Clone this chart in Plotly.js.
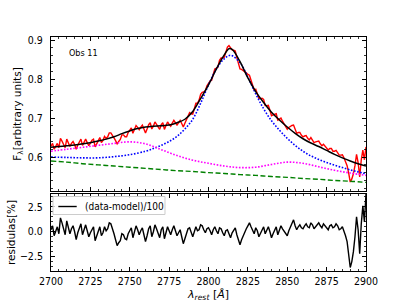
<!DOCTYPE html>
<html>
<head>
<meta charset="utf-8">
<script src="https://cdn.plot.ly/plotly-3.0.1.min.js"></script>
<style>html,body{margin:0;padding:0;background:#fff;}#chart{width:407px;height:305px;}</style>
</head>
<body>
<div id="chart"></div>
<script>
// Observed spectrum and residuals (1 Å sampling)
const waveData = [2700,2701,2702,2703,2704,2705,2706,2707,2708,2709,2710,2711,2712,2713,2714,2715,2716,2717,2718,2719,
2720,2721,2722,2723,2724,2725,2726,2727,2728,2729,2730,2731,2732,2733,2734,2735,2736,2737,2738,2739,
2740,2741,2742,2743,2744,2745,2746,2747,2748,2749,2750,2751,2752,2753,2754,2755,2756,2757,2758,2759,
2760,2761,2762,2763,2764,2765,2766,2767,2768,2769,2770,2771,2772,2773,2774,2775,2776,2777,2778,2779,
2780,2781,2782,2783,2784,2785,2786,2787,2788,2789,2790,2791,2792,2793,2794,2795,2796,2797,2798,2799,
2800,2801,2802,2803,2804,2805,2806,2807,2808,2809,2810,2811,2812,2813,2814,2815,2816,2817,2818,2819,
2820,2821,2822,2823,2824,2825,2826,2827,2828,2829,2830,2831,2832,2833,2834,2835,2836,2837,2838,2839,
2840,2841,2842,2843,2844,2845,2846,2847,2848,2849,2850,2851,2852,2853,2854,2855,2856,2857,2858,2859,
2860,2861,2862,2863,2864,2865,2866,2867,2868,2869,2870,2871,2872,2873,2874,2875,2876,2877,2878,2879,
2880,2881,2882,2883,2884,2885,2886,2887,2888,2889,2890,2891,2892,2893,2894,2895,2896,2897,2898,2899,2900];
const fluxData = [0.628,0.635,0.620,0.628,0.635,0.624,0.648,0.641,0.633,0.624,0.646,0.636,0.627,0.635,0.640,0.632,0.620,0.631,0.639,0.646,
0.630,0.638,0.646,0.637,0.629,0.636,0.643,0.646,0.626,0.634,0.644,0.650,0.637,0.643,0.653,0.648,0.652,0.662,0.662,0.657,
0.649,0.642,0.634,0.640,0.645,0.657,0.657,0.652,0.652,0.663,0.669,0.675,0.661,0.670,0.681,0.676,0.670,0.677,0.682,0.672,
0.662,0.672,0.683,0.688,0.672,0.679,0.690,0.684,0.677,0.671,0.683,0.688,0.671,0.679,0.690,0.684,0.679,0.687,0.694,0.688,
0.682,0.688,0.694,0.686,0.677,0.687,0.697,0.709,0.714,0.711,0.710,0.724,0.738,0.738,0.746,0.761,0.766,0.767,0.770,0.783,
0.791,0.795,0.797,0.813,0.826,0.828,0.831,0.848,0.854,0.854,0.856,0.869,0.882,0.886,0.879,0.875,0.874,0.872,0.855,0.842,
0.826,0.825,0.822,0.821,0.816,0.812,0.810,0.797,0.784,0.772,0.774,0.764,0.750,0.750,0.751,0.748,0.732,0.732,0.733,0.720,
0.706,0.708,0.710,0.711,0.695,0.697,0.700,0.692,0.686,0.678,0.671,0.676,0.679,0.681,0.682,0.670,0.661,0.663,0.663,0.656,
0.652,0.654,0.655,0.648,0.644,0.650,0.645,0.637,0.639,0.640,0.641,0.634,0.629,0.633,0.628,0.622,0.618,0.622,0.622,0.615,
0.615,0.617,0.612,0.605,0.605,0.606,0.598,0.589,0.578,0.559,0.536,0.544,0.557,0.578,0.607,0.586,0.549,0.593,0.618,0.593,0.626];
const residData = [0.2,0.6,-0.4,0.1,0.5,-0.2,1.4,0.9,0.3,-0.3,1.1,0.4,-0.2,0.3,0.6,0.0,-0.8,-0.1,0.4,0.8,
-0.3,0.2,0.7,0.1,-0.5,-0.1,0.3,0.5,-0.9,-0.4,0.2,0.5,-0.4,-0.1,0.5,0.1,0.3,0.9,0.8,0.4,
-0.2,-0.8,-1.4,-1.1,-0.9,-0.2,-0.3,-0.7,-0.8,-0.2,0.1,0.4,-0.6,-0.1,0.6,0.2,-0.3,0.1,0.4,-0.3,
-1.0,-0.4,0.3,0.6,-0.5,0.0,0.7,0.3,-0.2,-0.6,0.2,0.5,-0.7,-0.2,0.5,0.1,-0.3,0.2,0.6,0.1,
-0.4,-0.1,0.2,-0.5,-1.2,-0.7,-0.2,0.3,0.4,-0.1,-0.5,0.0,0.5,0.1,0.2,0.7,0.6,0.2,-0.1,0.3,
0.4,0.1,-0.3,0.2,0.5,0.1,-0.2,0.4,0.3,-0.1,-0.4,0.1,0.2,-0.2,-0.6,-0.1,0.1,0.4,-0.3,-0.7,
-1.3,-0.8,-0.4,0.1,0.3,0.6,0.9,0.5,0.1,-0.2,0.4,0.1,-0.5,-0.1,0.3,0.5,-0.2,0.1,0.5,0.0,
-0.6,-0.2,0.2,0.5,-0.3,0.1,0.6,0.3,0.1,-0.2,-0.4,0.1,0.5,0.9,1.2,0.6,0.2,0.5,0.7,0.4,
0.3,0.6,0.8,0.5,0.4,0.9,0.7,0.3,0.5,0.7,0.9,0.6,0.4,0.8,0.6,0.3,0.2,0.6,0.7,0.4,
0.5,0.8,0.6,0.2,0.3,0.5,0.1,-0.4,-1.0,-2.2,-3.6,-3.0,-2.0,-0.5,1.5,0.2,-2.2,0.8,2.6,1.0,3.8];

// Total model (black)
const waveModel = [2700,2705,2710,2715,2720,2725,2730,2735,2740,2745,2750,2755,2760,2765,2770,2775,2780,2785,2790,2795,2800,2805,2810,2813,2815,2820,2825,2830,2835,2840,2845,2850,2855,2860,2865,2870,2875,2880,2885,2890,2895,2900];
const fluxModel = [0.625,0.627,0.629,0.631,0.634,0.637,0.641,0.646,0.652,0.660,0.667,0.673,0.677,0.679,0.680,0.682,0.688,0.697,0.717,0.750,0.785,0.826,0.862,0.878,0.876,0.845,0.803,0.768,0.740,0.715,0.695,0.677,0.661,0.647,0.636,0.627,0.617,0.607,0.598,0.590,0.583,0.577];

// Broad line component + continuum (blue dotted)
const waveLine = [2700,2710,2720,2730,2740,2750,2760,2765,2770,2775,2780,2785,2790,2795,2800,2805,2810,2814,2820,2825,2830,2835,2840,2845,2850,2855,2860,2865,2870,2875,2880,2885,2890,2895,2900];
const fluxLine = [0.600,0.599,0.598,0.598,0.601,0.606,0.615,0.622,0.630,0.640,0.653,0.672,0.697,0.738,0.785,0.826,0.852,0.861,0.842,0.805,0.762,0.724,0.693,0.669,0.648,0.630,0.615,0.603,0.594,0.586,0.579,0.573,0.567,0.562,0.557];

// Fe II template + continuum (magenta dotted)
const waveFe = [2700,2710,2720,2730,2740,2750,2760,2770,2780,2790,2800,2810,2820,2830,2840,2850,2860,2870,2880,2890,2900];
const fluxFe = [0.615,0.620,0.625,0.630,0.635,0.639,0.634,0.619,0.604,0.592,0.584,0.577,0.573,0.574,0.581,0.587,0.584,0.575,0.566,0.559,0.553];

// Power-law continuum (green dashed)
const waveCont = [2700,2710,2720,2730,2740,2750,2760,2770,2780,2790,2800,2810,2820,2830,2840,2850,2860,2870,2880,2890,2900];
const fluxCont = [0.590,0.587,0.583,0.580,0.577,0.574,0.571,0.568,0.565,0.563,0.560,0.558,0.555,0.553,0.550,0.548,0.545,0.543,0.540,0.538,0.535];

const xTickVals = [2700,2725,2750,2775,2800,2825,2850,2875,2900];
const residTickVals = [-2.5,0.0,2.5];
const residTickText = ['\u22122.5','0.0','2.5'];

const condensed = 'DejaVu Sans Condensed, DejaVu Sans, sans-serif';
const regular = 'DejaVu Sans, sans-serif';

const traces = [
  {x: waveData, y: fluxData, xaxis:'x2', yaxis:'y', mode:'lines', line:{color:'#ff0000', width:1.4}, showlegend:false},
  {x: waveLine, y: fluxLine, xaxis:'x2', yaxis:'y', mode:'lines', line:{color:'#0000ff', width:1.6, dash:'1.6px,1.6px', shape:'spline'}, showlegend:false},
  {x: waveFe, y: fluxFe, xaxis:'x2', yaxis:'y', mode:'lines', line:{color:'#ff00ff', width:1.6, dash:'1.6px,1.6px', shape:'spline'}, showlegend:false},
  {x: waveCont, y: fluxCont, xaxis:'x2', yaxis:'y', mode:'lines', line:{color:'#008000', width:1.4, dash:'5px,2.5px', shape:'spline'}, showlegend:false},
  {x: waveModel, y: fluxModel, xaxis:'x2', yaxis:'y', mode:'lines', line:{color:'#000000', width:1.5, shape:'spline'}, showlegend:false},
  {x: waveData, y: residData, xaxis:'x', yaxis:'y2', mode:'lines', name:'(data-model)/100', line:{color:'#000000', width:1.4}, showlegend:false}
];

function axisBase(){
  return {showline:true, linecolor:'#000', linewidth:1, mirror:'allticks', ticks:'inside', ticklen:4, tickwidth:1, tickcolor:'#000', showgrid:false, zeroline:false, tickfont:{family:condensed, size:10.5, color:'#000'}};
}

const xaxis = Object.assign(axisBase(), {domain:[0,1], anchor:'y2', range:[2700,2900], tickvals:xTickVals, ticktext:xTickVals.map(String),
  minor:{ticks:'inside', ticklen:2, tickwidth:0.8, tickcolor:'#000', dtick:5, tick0:2700},
  title:{text:'<i>λ</i><sub><i>rest</i></sub> [<i>Å</i>]', font:{family:regular, size:11, color:'#000'}, standoff:4}});
const xaxis2 = Object.assign(axisBase(), {domain:[0,1], anchor:'y', matches:'x', range:[2700,2900], tickvals:xTickVals, showticklabels:false,
  minor:{ticks:'inside', ticklen:2, tickwidth:0.8, tickcolor:'#000', dtick:5, tick0:2700}});
const yaxis = Object.assign(axisBase(), {domain:[0.342,1], anchor:'x2', range:[0.513,0.908], dtick:0.1, tick0:0, tickformat:'.1f', ticklabelstandoff:5,
  minor:{ticks:'inside', ticklen:2, tickwidth:0.8, tickcolor:'#000', dtick:0.02, tick0:0},
  title:{text:'F<sub>λ</sub>[arbitrary units]', font:{family:regular, size:10.5, color:'#000'}, standoff:4}});
const yaxis2 = Object.assign(axisBase(), {domain:[0,0.329], anchor:'x', range:[-3.95,3.8], tickvals:residTickVals, ticktext:residTickText, ticklabelstandoff:5,
  minor:{ticks:'inside', ticklen:2, tickwidth:0.8, tickcolor:'#000', dtick:0.5, tick0:0},
  title:{text:'residulas[%]', font:{family:regular, size:10.5, color:'#000'}, standoff:2}});

const layout = {
  width:407, height:305,
  margin:{l:51, r:41, t:37, b:34, pad:0},
  paper_bgcolor:'#fff', plot_bgcolor:'#fff',
  showlegend:false,
  xaxis:xaxis, xaxis2:xaxis2, yaxis:yaxis, yaxis2:yaxis2,
  shapes:[
    {type:'rect', xref:'paper', yref:'paper', x0:0.0063, x1:0.3619, y0:0.2415, y1:0.3184, line:{color:'#cccccc', width:1}, fillcolor:'rgba(255,255,255,0.8)', layer:'above'},
    {type:'line', xref:'paper', yref:'paper', x0:0.0232, x1:0.0816, y0:0.2756, y1:0.2756, line:{color:'#000', width:1.4}, layer:'above'}
  ],
  annotations:[
    {text:'(data-model)/100', xref:'paper', yref:'paper', x:0.1025, y:0.2756, xanchor:'left', yanchor:'middle', showarrow:false, font:{family:condensed, size:10, color:'#000'}},
    {text:'Obs 11', xref:'paper', yref:'paper', x:0.0508, y:0.933, xanchor:'left', yanchor:'middle', showarrow:false, font:{family:condensed, size:9, color:'#000'}}
  ]
};

Plotly.newPlot('chart', traces, layout, {staticPlot:true, displayModeBar:false});
</script>
</body>
</html>
